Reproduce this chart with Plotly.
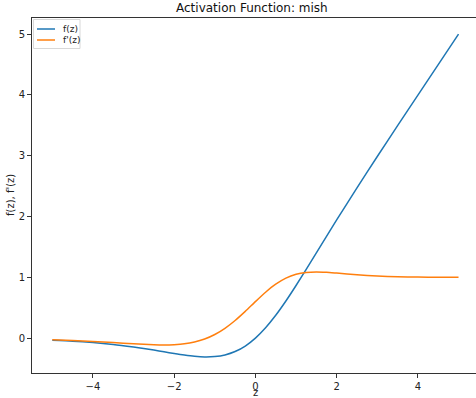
import plotly.graph_objects as go

z = [-5, -4.5, -4, -3.5, -3, -2.75, -2.5, -2.25, -2, -1.75, -1.5, -1.25, -1, -0.75, -0.5, -0.25, 0,
     0.25, 0.5, 0.75, 1, 1.25, 1.5, 1.75, 2, 2.5, 3, 3.5, 4, 4.5, 5]
f_vals = [-0.034, -0.050, -0.073, -0.104, -0.146, -0.170, -0.197, -0.225, -0.253, -0.278, -0.298,
          -0.309, -0.303, -0.277, -0.221, -0.130, 0.0, 0.170, 0.375, 0.610, 0.865, 1.132, 1.403,
          1.675, 1.944, 2.471, 2.987, 3.494, 3.997, 4.499, 5.0]
df_vals = [-0.027, -0.038, -0.054, -0.073, -0.093, -0.103, -0.110, -0.113, -0.108, -0.094, -0.064,
           -0.015, 0.059, 0.161, 0.290, 0.440, 0.600, 0.754, 0.886, 0.986, 1.049, 1.080, 1.089,
           1.082, 1.069, 1.041, 1.021, 1.010, 1.004, 1.002, 1.001]
x_ticks = [-4, -2, 0, 2, 4]
y_ticks = [0, 1, 2, 3, 4, 5]
series_names = ["f(z)", "f'(z)"]
series_colors = ["#1f77b4", "#ff7f0e"]

font = "DejaVu Sans, sans-serif"
fig = go.Figure()
for name, vals, col in zip(series_names, [f_vals, df_vals], series_colors):
    fig.add_trace(go.Scatter(x=z, y=vals, mode="lines", name=name, showlegend=False,
                             line=dict(color=col, width=1.5, shape="spline", smoothing=0.6)))

axis_common = dict(showline=True, linecolor="#333", linewidth=1,
                   ticks="outside", ticklen=4, tickcolor="#333", showgrid=False,
                   zeroline=False, tickfont=dict(size=10, color="#222", family=font))
fig.update_xaxes(range=[-5.5, 5.43], tickvals=x_ticks, mirror=True,
                 ticktext=[("−" + str(-t)) if t < 0 else str(t) for t in x_ticks], **axis_common)
fig.update_yaxes(range=[-0.574, 5.265], tickvals=y_ticks, mirror=False, **axis_common)

# matplotlib-style legend box in the upper-left corner
pw, ph = 476 - 32, 398 - 18 - 25
def px(x):
    return (x - 32) / pw
def py(y):
    return (398 - 25 - y) / ph

shapes = [dict(type="rect", xref="paper", yref="paper", x0=px(33.5), x1=px(80), y0=py(48.5), y1=py(19.5),
               line=dict(color="#d8d8d8", width=1), fillcolor="rgba(255,255,255,0.8)", layer="above")]
annotations = []
for i, (name, col) in enumerate(zip(series_names, series_colors)):
    yy = 29 + 11 * i
    shapes.append(dict(type="line", xref="paper", yref="paper", x0=px(37), x1=px(55), y0=py(yy), y1=py(yy),
                       line=dict(color=col, width=1.5), layer="above"))
    annotations.append(dict(text=name, x=px(61), y=py(yy), xref="paper", yref="paper", xanchor="left",
                            yanchor="middle", showarrow=False, font=dict(size=9, family=font, color="#222")))

annotations += [
    dict(text="Activation Function: mish", x=0.5 * (px(32) + px(472)), y=1, xref="paper", yref="paper",
         xanchor="center", yanchor="bottom", yshift=1, showarrow=False,
         font=dict(size=12, family=font, color="#111")),
    dict(text="z", x=px(255.5), y=0, xref="paper", yref="paper", xanchor="center",
         yanchor="bottom", yshift=-26, showarrow=False, borderpad=0,
         font=dict(size=10, family=font, color="#222")),
    dict(text="f(z), f'(z)", x=0, y=0.5, xref="paper", yref="paper", xanchor="right",
         yanchor="middle", xshift=-14, textangle=-90, showarrow=False,
         font=dict(size=10, family=font, color="#222")),
]

fig.update_layout(
    width=476, height=398,
    margin=dict(l=32, r=0, t=18, b=25, autoexpand=False),
    paper_bgcolor="white", plot_bgcolor="white",
    font=dict(family=font, color="#222"),
    showlegend=False,
    shapes=shapes,
    annotations=annotations,
)
fig.write_html("out.html", config={"displayModeBar": False},
               post_script="document.body.style.margin='0';")
